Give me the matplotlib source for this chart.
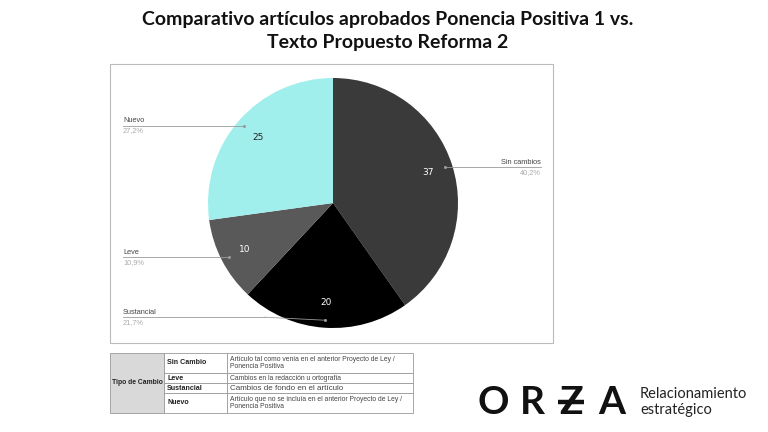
import numpy as np
import matplotlib
matplotlib.use("Agg")
import matplotlib.pyplot as plt
from matplotlib.patches import Rectangle

# data
categorias = ["Sin cambios", "Sustancial", "Leve", "Nuevo"]
valores = [37, 20, 10, 25]
colores = ["#3a3a3a", "#000000", "#595959", "#a0efec"]
color_valor = ["white", "white", "white", "#222222"]

tabla_tipos = ["Sin Cambio", "Leve", "Sustancial", "Nuevo"]
tabla_desc = [
    "Artículo tal como venía en el anterior Proyecto de Ley /\nPonencia Positiva",
    "Cambios en la redacción u ortografía",
    "Cambios de fondo en el artículo",
    "Artículo que no se incluía en el anterior Proyecto de Ley /\nPonencia Positiva",
]

W, H = 768, 432
fig = plt.figure(figsize=(W / 100, H / 100), dpi=100)
fig.patch.set_facecolor("white")


def fx(px):
    return px / W


def fy(py):
    return 1 - py / H


# title
fig.text(fx(388), fy(31), "Comparativo artículos aprobados Ponencia Positiva 1 vs.\nTexto Propuesto Reforma 2",
         ha="center", va="center", fontsize=14, fontweight="bold", family="Lato",
         color="#111111", linespacing=1.4)

# chart frame
fig.patches.append(Rectangle((fx(110), fy(343)), fx(443), 279 / H, transform=fig.transFigure,
                             fill=False, edgecolor="#bbbbbb", lw=0.8))

# pie
cx, cy, R = 333, 203, 125
box = 150
ax = fig.add_axes([fx(cx - box), fy(cy + box), 2 * box / W, 2 * box / H])
ax.axis("off")
wedges, _ = ax.pie(valores, colors=colores, startangle=90, counterclock=False, radius=1,
                   wedgeprops=dict(linewidth=0))
ax.set_xlim(-box / R, box / R)
ax.set_ylim(-box / R, box / R)

total = sum(valores)
for w, v, tc in zip(wedges, valores, color_valor):
    ang = np.deg2rad((w.theta1 + w.theta2) / 2)
    ax.text(0.8 * np.cos(ang), 0.8 * np.sin(ang), str(v), ha="center", va="center",
            fontsize=6.5, color=tc, family="DejaVu Sans")

# callout labels
label_x = {"Sin cambios": 541, "Sustancial": 123, "Leve": 123, "Nuevo": 123}
for w, cat, v in zip(wedges, categorias, valores):
    ang = np.deg2rad((w.theta1 + w.theta2) / 2)
    axp, ayp = 0.94 * np.cos(ang), 0.94 * np.sin(ang)
    px_a = cx + axp * R
    py_a = cy - ayp * R
    lx = label_x[cat]
    ly = py_a if cat != "Sustancial" else py_a - 3
    end_x = px_a if cat != "Sustancial" else px_a - 60
    fig.lines.append(plt.Line2D([fx(lx), fx(end_x)], [fy(ly), fy(ly)],
                                transform=fig.transFigure, color="#9a9a9a", lw=0.6))
    if cat == "Sustancial":
        fig.lines.append(plt.Line2D([fx(end_x), fx(px_a)], [fy(ly), fy(py_a)],
                                    transform=fig.transFigure, color="#9a9a9a", lw=0.6))
    fig.lines.append(plt.Line2D([fx(px_a)], [fy(py_a)], transform=fig.transFigure,
                                marker="o", ms=1.2, color="#9a9a9a", lw=0))
    ha = "right" if lx > cx else "left"
    fig.text(fx(lx), fy(ly - 1.5), cat, ha=ha, va="bottom", fontsize=5.3,
             color="#444444", family="Liberation Sans")
    fig.text(fx(lx), fy(ly + 1.5), f"{100 * v / total:.1f}%".replace(".", ","), ha=ha, va="top",
             fontsize=5.3, color="#aaaaaa", family="Liberation Sans")

# table
tx0, tx1, tx2, tx3 = 110, 164, 227, 413
rows_y = [353, 373, 383, 393, 413]
gray = "#999999"
fig.patches.append(Rectangle((fx(tx0), fy(rows_y[-1])), fx(tx1 - tx0), (rows_y[-1] - rows_y[0]) / H,
                             transform=fig.transFigure, facecolor="#d9d9d9", edgecolor=gray, lw=0.6))
fig.text(fx((tx0 + tx1) / 2), fy((rows_y[0] + rows_y[-1]) / 2), "Tipo de Cambio", ha="center", va="center",
         fontsize=4.9, fontweight="bold", family="Liberation Sans", color="#222222")
for i, (tipo, desc) in enumerate(zip(tabla_tipos, tabla_desc)):
    y0, y1 = rows_y[i], rows_y[i + 1]
    for a, b in [(tx1, tx2), (tx2, tx3)]:
        fig.patches.append(Rectangle((fx(a), fy(y1)), fx(b - a), (y1 - y0) / H, transform=fig.transFigure,
                                     facecolor="white", edgecolor=gray, lw=0.6))
    fig.text(fx(tx1 + 3), fy((y0 + y1) / 2), tipo, ha="left", va="center", fontsize=5.1,
             fontweight="bold", family="Liberation Sans", color="#222222")
    fig.text(fx(tx2 + 3), fy((y0 + y1) / 2), desc, ha="left", va="center",
             fontsize=5.8 if tipo == "Sustancial" else 4.9, family="Liberation Sans",
             color="#444444", linespacing=1.1)

# logo
for ch, x in zip(["O", "R", "Z", "A"], [493, 532, 571, 612]):
    fig.text(fx(x), fy(402), ch, ha="center", va="center", fontsize=28, family="Lato",
             fontweight="bold", color="#111111")
fig.lines.append(plt.Line2D([fx(558), fx(584)], [fy(402), fy(402)], transform=fig.transFigure,
                            color="#111111", lw=3.2, solid_capstyle="butt"))
fig.text(fx(640), fy(402), "Relacionamiento\nestratégico", ha="left", va="center", fontsize=10.5,
         family="Lato", color="#222222", linespacing=1.1)

fig.savefig("out.png", dpi=100, facecolor="white")
